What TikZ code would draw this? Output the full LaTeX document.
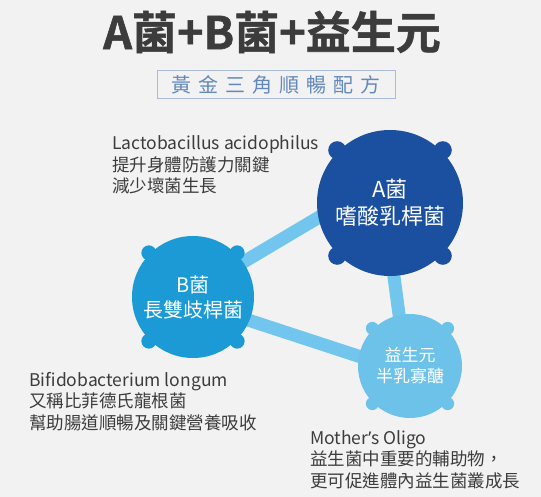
\documentclass[tikz,border=0pt]{standalone}
\usepackage{fontspec}
\setmainfont{Noto Sans CJK TC}
\newfontfamily\aposfont{Noto Sans}
\newfontfamily\titlefont[FakeBold=1.2]{Noto Sans CJK TC Bold}
\usetikzlibrary{backgrounds,calc}
\definecolor{bg}{HTML}{F2F2F2}
\definecolor{cA}{HTML}{1B4F9F}
\definecolor{cB}{HTML}{1B9AD6}
\definecolor{cC}{HTML}{6DC2EA}
\definecolor{conn}{HTML}{72C5EC}
\definecolor{txt}{HTML}{3C3C3C}
\definecolor{subtxt}{HTML}{6288BC}
\definecolor{subbox}{HTML}{A9BDDA}
\newcommand{\lsp}{\hspace{7pt}}
\begin{document}
\begin{tikzpicture}[x=1pt,y=-1pt,
  bubble/.style={circle, inner sep=0pt, text=white, align=center},
  connector/.style={draw=conn, line width=13pt},
  note/.style={anchor=base west, inner sep=0pt, align=left, text=txt,
    font=\fontsize{17.5}{21.5}\selectfont}]
\useasboundingbox (0,0) rectangle (541,497);

\node[inner sep=0pt, text=txt, font=\fontsize{45}{45}\titlefont] (title) at (272,32) {A菌+B菌+益生元};
\node[draw=subbox, line width=1pt, minimum width=238pt, minimum height=28pt, inner sep=0pt,
  text=subtxt, font=\fontsize{20}{20}\selectfont] (sub) at (276,85)
  {黃\lsp 金\lsp 三\lsp 角\lsp 順\lsp 暢\lsp 配\lsp 方};

\node[bubble, fill=cA, minimum size=146pt, font=\fontsize{22}{27}\selectfont] (A) at (390,203) {A菌\\嗜酸乳桿菌};
\node[bubble, fill=cB, minimum size=122pt, font=\fontsize{20}{25}\selectfont] (B) at (193,297) {B菌\\長雙歧桿菌};
\node[bubble, fill=cC, minimum size=104pt, font=\fontsize{17}{21}\selectfont] (C) at (410,366) {益生元\\半乳寡醣};

\foreach \a in {45,135,225,315} {
  \fill[cA] ($(A.center)!1.02!(A.\a)$) circle[radius=9pt];
  \fill[cB] ($(B.center)!1.02!(B.\a)$) circle[radius=7.5pt];
  \fill[cC] ($(C.center)!1.02!(C.\a)$) circle[radius=6.5pt];
}

\begin{pgfonlayer}{background}
  \fill[bg] (0,0) rectangle (541,497);
  \draw[connector] ([yshift=5pt]B.center) -- ([yshift=28pt]A.center);
  \draw[connector] ([yshift=-5pt]B.center) -- ([yshift=-7pt]C.center);
  \draw[connector] ([xshift=-6pt]A.center) -- ([xshift=-4pt]C.center);
\end{pgfonlayer}

\node[note] (ta) at (112,193) {Lactobacillus acidophilus\\提升身體防護力關鍵\\減少壞菌生長};
\node[note] (tb) at (29,429) {Bifidobacterium longum\\又稱比菲德氏龍根菌\\幫助腸道順暢及關鍵營養吸收};
\node[note] (tc) at (310,487) {Mother{\aposfont ’}s Oligo\\益生菌中重要的輔助物，\\更可促進體內益生菌叢成長};
\end{tikzpicture}
\end{document}
